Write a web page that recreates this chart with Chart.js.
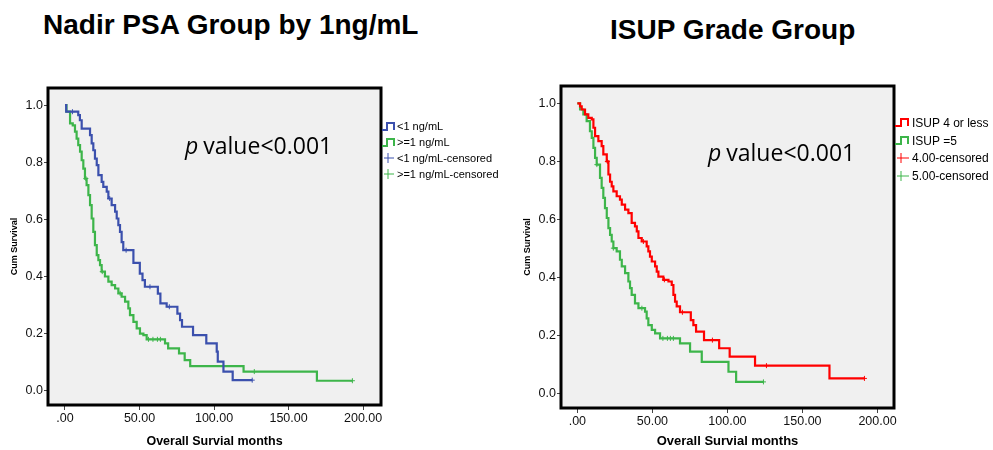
<!DOCTYPE html>
<html>
<head>
<meta charset="utf-8">
<script src="https://cdn.jsdelivr.net/npm/chart.js@4.4.1/dist/chart.umd.min.js"></script>
<style>
    body {
        margin: 0;
        width: 993px;
        height: 450px;
        background: #fff;
        position: relative;
        overflow: hidden;
        font-family: "Liberation Sans", Arial, sans-serif;
    }
    canvas { position: absolute; }
    .title {
        position: absolute;
        font-weight: bold;
        font-size: 28px;
        line-height: 28px;
        white-space: nowrap;
        color: #000;
    }
    .pval {
        position: absolute;
        font-family: "Open Sans", sans-serif;
        font-size: 23px;
        line-height: 23px;
        white-space: nowrap;
        color: #000;
        z-index: 2;
    }
    .pval i { margin-right: 5px; }
    .legend { position: absolute; color: #000; z-index: 2; }
    .legend .row { display: flex; align-items: center; white-space: nowrap; }
    .legend svg { flex: none; }
</style>
</head>
<body>

<div class="title" style="left:43px; top:11px;">Nadir PSA Group by 1ng/mL</div>
<div class="title" style="left:610px; top:16px;">ISUP Grade Group</div>

<canvas id="psa-chart" width="386" height="370" style="left:0; top:80px;"></canvas>
<canvas id="isup-chart" width="386" height="372" style="left:513px; top:78px;"></canvas>

<div class="pval" style="left:185px; top:134px;"><i>p</i>value&lt;0.001</div>
<div class="pval" style="left:708px; top:141px;"><i>p</i>value&lt;0.001</div>

<div class="legend" id="psa-legend" style="left:382px; top:118px; font-size:11px;"></div>
<div class="legend" id="isup-legend" style="left:895px; top:114px; font-size:12px;"></div>

<script>
// axis ticks (shared)
const monthTicks = [0, 50, 100, 150, 200];
const monthTickLabels = ['.00', '50.00', '100.00', '150.00', '200.00'];
const survTicks = [0, 0.2, 0.4, 0.6, 0.8, 1.0];
const survTickLabels = ['0.0', '0.2', '0.4', '0.6', '0.8', '1.0'];

// Nadir PSA < 1 ng/mL
const psaLowMonths = [0, 0.8, 8.9, 10, 11.2, 16.8, 17.9, 19, 20.1, 21.3, 22.4, 24.6, 25.7, 28, 29.1, 31.3,
    33.6, 34.7, 35.8, 36.9, 38, 39.1, 45.9, 50.2, 52, 53.6, 62.3, 64, 68.2, 75.4, 77.2, 78.5, 85.9,
    94.8, 101.8, 102.5, 106.3, 112.5, 125.6];
const psaLowSurv = [1.0, 0.977, 0.965, 0.947, 0.918, 0.895, 0.866, 0.842, 0.813, 0.79, 0.755, 0.731, 0.714,
    0.697, 0.673, 0.65, 0.627, 0.603, 0.58, 0.556, 0.52, 0.492, 0.448, 0.41, 0.387, 0.364, 0.34, 0.306,
    0.294, 0.27, 0.247, 0.224, 0.195, 0.166, 0.137, 0.102, 0.067, 0.037, 0.037];
const psaLowCensored = [5, 30, 41, 57, 70, 125.6];

// Nadir PSA >= 1 ng/mL
const psaHighMonths = [0, 1, 3.4, 5.2, 6.7, 7.8, 8.9, 10.1, 11.2, 12.3, 13.4, 14.5, 15.7, 16.8, 17.9, 19,
    20.1, 21.3, 22.4, 23.5, 24.6, 26.8, 29.1, 31.3, 33.6, 35.8, 38, 40.3, 42.5, 43.6, 45.9, 48.1, 50.3,
    52.6, 54.8, 67.1, 69.2, 76.5, 80.3, 84, 119.8, 169, 192.8];
const psaHighSurv = [1.0, 0.977, 0.936, 0.929, 0.907, 0.883, 0.86, 0.837, 0.807, 0.778, 0.743, 0.72, 0.685,
    0.65, 0.603, 0.556, 0.51, 0.475, 0.457, 0.44, 0.417, 0.4, 0.382, 0.37, 0.358, 0.341, 0.329, 0.312,
    0.288, 0.265, 0.241, 0.218, 0.2, 0.195, 0.18, 0.166, 0.148, 0.131, 0.107, 0.086, 0.067, 0.035, 0.035];
const psaHighCensored = [14, 25, 37, 56, 59, 62, 64, 127, 192.8];

// ISUP 4 or less
const isupLowMonths = [0, 1.8, 2.9, 5.1, 7.3, 9.6, 10.7, 11.8, 14, 16.2, 17.3, 19.6, 20.7, 21.8, 22.9, 24,
    26.2, 28.4, 29.6, 31.8, 34, 36.2, 38.4, 39.6, 40.7, 42.9, 46.2, 47.3, 48.4, 49.6, 51.8, 52.9, 54,
    57.3, 60.7, 62.9, 64, 65.1, 66.2, 68.4, 75.6, 77.3, 79.1, 84.4, 94.5, 101.5, 118.4, 168, 191.3];
const isupLowSurv = [1.0, 0.99, 0.979, 0.962, 0.95, 0.945, 0.916, 0.887, 0.87, 0.853, 0.824, 0.8, 0.755,
    0.73, 0.714, 0.697, 0.68, 0.668, 0.651, 0.634, 0.622, 0.588, 0.576, 0.559, 0.536, 0.524, 0.507, 0.49,
    0.472, 0.455, 0.438, 0.42, 0.403, 0.392, 0.386, 0.374, 0.34, 0.317, 0.3, 0.28, 0.253, 0.236, 0.213,
    0.184, 0.156, 0.127, 0.096, 0.052, 0.052];
const isupLowCensored = [20, 44, 58, 70, 90, 126, 191.3];

// ISUP = 5
const isupHighMonths = [0, 1.8, 4, 6.2, 8.4, 9.6, 10.7, 11.8, 12.9, 15.1, 16.2, 17.3, 18.4, 19.6, 20.7,
    21.8, 22.9, 24, 26.2, 28.4, 29.6, 31.8, 34, 35.1, 36.2, 38.4, 40.7, 45.1, 46.2, 47.3, 49.6, 51.8,
    55.1, 68.4, 75.1, 82.9, 100.7, 105.8, 124];
const isupHighSurv = [1.0, 0.979, 0.962, 0.939, 0.904, 0.881, 0.847, 0.812, 0.789, 0.743, 0.709, 0.674,
    0.639, 0.605, 0.57, 0.547, 0.524, 0.501, 0.49, 0.461, 0.438, 0.415, 0.386, 0.363, 0.34, 0.311, 0.294,
    0.282, 0.259, 0.236, 0.219, 0.207, 0.19, 0.173, 0.144, 0.109, 0.075, 0.04, 0.04];
const isupHighCensored = [13, 24, 43, 57, 60, 62, 64, 124];

const BLUE = '#3b50ad';
const GREEN = '#3db54a';
const RED = '#ff0000';
const FONT = '"Liberation Sans", Arial, sans-serif';

// survival value of a step curve at time t
function survAt(months, surv, t) {
    let s = surv[0];
    for (let i = 0; i < months.length; i++) {
        if (months[i] <= t) s = surv[i];
    }
    return s;
}

function curveSet(label, months, surv, color) {
    return {
        label: label,
        data: months.map((m, i) => ({ x: m, y: surv[i] })),
        showLine: true,
        stepped: true,
        borderColor: color,
        borderWidth: 2.2,
        pointRadius: 0,
        fill: false
    };
}

function censorSet(label, censored, months, surv, color) {
    return {
        label: label,
        data: censored.map(t => ({ x: t, y: survAt(months, surv, t) })),
        showLine: false,
        pointStyle: 'cross',
        pointRadius: 2.5,
        borderWidth: 1,
        borderColor: color,
        backgroundColor: color
    };
}

// grey plot background and thick black frame
const framePlugin = {
    id: 'frame',
    beforeDraw(chart) {
        const { ctx, chartArea: a } = chart;
        ctx.save();
        ctx.fillStyle = '#f0f0f0';
        ctx.fillRect(a.left, a.top, a.width, a.height);
        ctx.restore();
    },
    afterDraw(chart) {
        const { ctx, chartArea: a } = chart;
        ctx.save();
        ctx.strokeStyle = '#000';
        ctx.lineWidth = 3;
        ctx.strokeRect(a.left, a.top, a.width, a.height);
        ctx.restore();
    }
};

function makeChart(id, datasets, cfg) {
    const ctx = document.getElementById(id).getContext('2d');
    return new Chart(ctx, {
        type: 'scatter',
        data: { datasets: datasets },
        plugins: [framePlugin],
        options: {
            responsive: false,
            animation: false,
            layout: { padding: { left: 0, top: 8, right: 5, bottom: 0 } },
            plugins: {
                legend: { display: false },
                tooltip: { enabled: false }
            },
            scales: {
                x: {
                    type: 'linear',
                    min: cfg.xMin,
                    max: cfg.xMax,
                    afterBuildTicks: s => { s.ticks = monthTicks.map(v => ({ value: v })); },
                    afterFit: s => { s.height = cfg.xAxisH; s.paddingLeft = 0; s.paddingRight = 0; },
                    ticks: {
                        callback: (v, i) => monthTickLabels[i],
                        font: { family: FONT, size: 12.5 },
                        color: '#111',
                        padding: 1,
                        maxRotation: 0,
                        autoSkip: false
                    },
                    grid: { drawOnChartArea: false, tickLength: 5, color: '#444' },
                    border: { display: false },
                    title: {
                        display: true,
                        text: 'Overall Survial months',
                        font: { family: FONT, size: cfg.xTitleSize, weight: 'bold' },
                        color: '#000',
                        padding: { top: 0, bottom: cfg.xTitlePad }
                    }
                },
                y: {
                    type: 'linear',
                    min: -0.05,
                    max: 1.06,
                    afterBuildTicks: s => { s.ticks = survTicks.map(v => ({ value: v })); },
                    afterFit: s => { s.width = 48; s.paddingTop = 0; s.paddingBottom = 0; },
                    ticks: {
                        callback: (v, i) => survTickLabels[i],
                        font: { family: FONT, size: 12.5 },
                        color: '#111',
                        padding: 1,
                        autoSkip: false
                    },
                    grid: { drawOnChartArea: false, tickLength: 4, color: '#444' },
                    border: { display: false },
                    title: {
                        display: true,
                        text: 'Cum Survival',
                        font: { family: FONT, size: 9, weight: 'bold' },
                        color: '#000',
                        padding: { top: 9, bottom: 0 }
                    }
                }
            }
        }
    });
}

function stepIcon(color, w, h) {
    const y1 = h - 2, y0 = 2, a = Math.round(w * 0.35), b = Math.round(w * 0.78);
    return `<svg width="${w}" height="${h}"><polyline points="0,${y1} ${a},${y1} ${a},${y0} ${b},${y0} ${b},${y1}" fill="none" stroke="${color}" stroke-width="2"/></svg>`;
}

function crossIcon(color, w, h) {
    const cx = Math.round(w * 0.38);
    return `<svg width="${w}" height="${h}"><line x1="2" y1="${h / 2}" x2="${w - 3}" y2="${h / 2}" stroke="${color}" stroke-width="1"/><line x1="${cx}" y1="${h / 2 - 5}" x2="${cx}" y2="${h / 2 + 5}" stroke="${color}" stroke-width="1"/></svg>`;
}

function fillLegend(id, items, iconW, rowH) {
    const box = document.getElementById(id);
    items.forEach(item => {
        const row = document.createElement('div');
        row.className = 'row';
        row.style.height = rowH + 'px';
        const icon = item.kind === 'line' ? stepIcon(item.color, iconW, 11) : crossIcon(item.color, iconW, 12);
        row.innerHTML = icon + '<span>' + item.label + '</span>';
        box.appendChild(row);
    });
}

document.addEventListener('DOMContentLoaded', function() {
    makeChart('psa-chart', [
        curveSet('<1 ng/mL', psaLowMonths, psaLowSurv, BLUE),
        curveSet('>=1 ng/mL', psaHighMonths, psaHighSurv, GREEN),
        censorSet('<1 ng/mL-censored', psaLowCensored, psaLowMonths, psaLowSurv, BLUE),
        censorSet('>=1 ng/mL-censored', psaHighCensored, psaHighMonths, psaHighSurv, GREEN)
    ], { xMin: -11.4, xMax: 212, xAxisH: 45, xTitleSize: 12.5, xTitlePad: 1.4 });

    makeChart('isup-chart', [
        curveSet('ISUP 4 or less', isupLowMonths, isupLowSurv, RED),
        curveSet('ISUP =5', isupHighMonths, isupHighSurv, GREEN),
        censorSet('4.00-censored', isupLowCensored, isupLowMonths, isupLowSurv, RED),
        censorSet('5.00-censored', isupHighCensored, isupHighMonths, isupHighSurv, GREEN)
    ], { xMin: -10.9, xMax: 211, xAxisH: 42, xTitleSize: 13, xTitlePad: 0.4 });

    fillLegend('psa-legend', [
        { kind: 'line', color: BLUE, label: '&lt;1 ng/mL' },
        { kind: 'line', color: GREEN, label: '&gt;=1 ng/mL' },
        { kind: 'cross', color: BLUE, label: '&lt;1 ng/mL-censored' },
        { kind: 'cross', color: GREEN, label: '&gt;=1 ng/mL-censored' }
    ], 15, 16);

    fillLegend('isup-legend', [
        { kind: 'line', color: RED, label: 'ISUP 4 or less' },
        { kind: 'line', color: GREEN, label: 'ISUP =5' },
        { kind: 'cross', color: RED, label: '4.00-censored' },
        { kind: 'cross', color: GREEN, label: '5.00-censored' }
    ], 17, 17.7);
});
</script>
</body>
</html>
